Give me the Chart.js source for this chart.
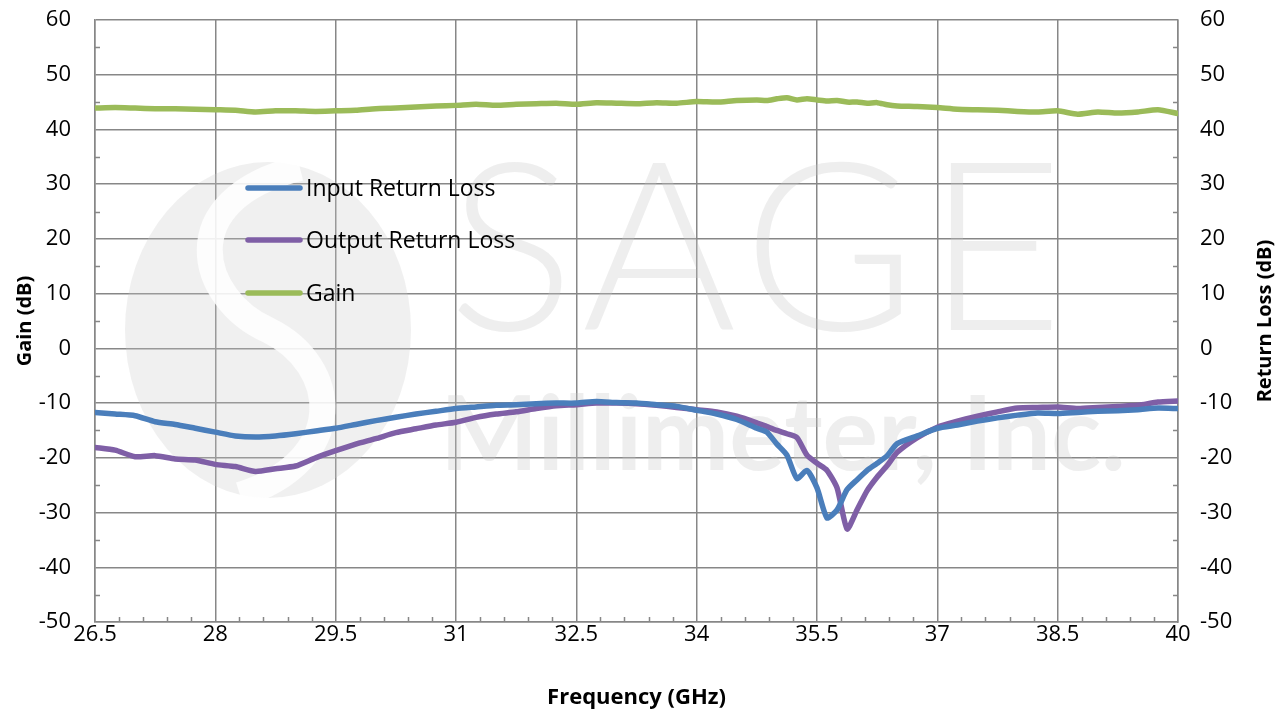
<!DOCTYPE html>
<html>
<head>
<meta charset="utf-8">
<script src="https://cdn.jsdelivr.net/npm/chart.js@4.4.1/dist/chart.umd.min.js"></script>
<style>
  html, body { margin: 0; padding: 0; background: #fff; }
  #chart { display: block; }
</style>
</head>
<body>
<canvas id="chart" width="1286" height="711"></canvas>
<script>
const freq = [26.5, 26.75, 27, 27.25, 27.5, 27.75, 28, 28.25, 28.5, 28.75,
  29, 29.25, 29.5, 29.75, 30, 30.25, 30.5, 30.75, 31, 31.25,
  31.5, 31.75, 32, 32.25, 32.5, 32.75, 33, 33.25, 33.5, 33.75,
  34, 34.25, 34.5, 34.75, 34.875, 35, 35.125, 35.25, 35.375, 35.5,
  35.625, 35.75, 35.875, 36, 36.125, 36.25, 36.375, 36.5, 36.75, 37,
  37.25, 37.5, 37.75, 38, 38.25, 38.5, 38.75, 39, 39.25, 39.5,
  39.75, 40];

const inputRL = [-11.7, -12.0, -12.3, -13.4, -13.9, -14.6, -15.3, -16.0, -16.2, -16.0,
  -15.6, -15.1, -14.6, -13.9, -13.2, -12.6, -12.0, -11.5, -11.0, -10.7,
  -10.4, -10.3, -10.1, -10.0, -10.0, -9.7, -9.9, -10.0, -10.3, -10.6,
  -11.3, -12.0, -13.0, -14.6, -15.3, -17.5, -19.5, -23.8, -22.3, -25.5,
  -31.0, -29.5, -25.8, -24.0, -22.3, -21.0, -19.6, -17.4, -16.0, -14.6,
  -14.0, -13.3, -12.7, -12.2, -11.8, -11.9, -11.7, -11.5, -11.4, -11.2,
  -10.9, -11.0];

const outputRL = [-18.1, -18.6, -19.8, -19.6, -20.2, -20.4, -21.2, -21.6, -22.5, -22.0,
  -21.5, -20.0, -18.7, -17.5, -16.5, -15.4, -14.7, -14.0, -13.5, -12.6,
  -12.0, -11.6, -11.0, -10.5, -10.3, -10.0, -10.0, -10.1, -10.4, -10.8,
  -11.2, -11.6, -12.4, -13.6, -14.3, -15.0, -15.6, -16.3, -19.5, -21.0,
  -22.3, -25.5, -33.0, -29.5, -26.0, -23.5, -21.4, -19.0, -16.3, -14.4,
  -13.3, -12.4, -11.6, -10.9, -10.8, -10.7, -11.0, -10.8, -10.6, -10.4,
  -9.8, -9.6];

const gain = [43.9, 44.0, 43.9, 43.8, 43.8, 43.7, 43.6, 43.5, 43.2, 43.4,
  43.4, 43.3, 43.4, 43.5, 43.8, 43.9, 44.1, 44.3, 44.4, 44.6,
  44.4, 44.6, 44.7, 44.8, 44.6, 44.9, 44.8, 44.7, 44.9, 44.8,
  45.1, 45.0, 45.3, 45.4, 45.3, 45.6, 45.8, 45.4, 45.6, 45.4,
  45.2, 45.3, 45.0, 45.0, 44.8, 44.9, 44.5, 44.3, 44.2, 44.0,
  43.7, 43.6, 43.5, 43.3, 43.2, 43.4, 42.8, 43.2, 43.0, 43.2,
  43.6, 42.9];

const seriesNames = ['Input Return Loss', 'Output Return Loss', 'Gain'];
const seriesColors = ['#4a7ebb', '#7f5fa6', '#9bbb59'];

const FONT = '"Open Sans", "Noto Sans", sans-serif';
const GRID = '#878787';

function pts(vals) {
  return vals.map((v, i) => ({ x: freq[i], y: v }));
}

function noPad(s) {
  s.paddingTop = 0;
  s.paddingBottom = 0;
}

// faint company watermark behind the plot
const watermark = {
  id: 'watermark',
  beforeDatasetsDraw(chart) {
    const ctx = chart.ctx;
    ctx.save();
    ctx.fillStyle = 'rgba(200,200,200,0.28)';
    ctx.beginPath();
    ctx.ellipse(268, 330, 143, 168, 0, 0, Math.PI * 2);
    ctx.fill();
    ctx.strokeStyle = 'rgba(255,255,255,0.85)';
    ctx.lineWidth = 26;
    ctx.beginPath();
    ctx.moveTo(300, 168);
    ctx.bezierCurveTo(170, 200, 200, 300, 268, 330);
    ctx.bezierCurveTo(340, 365, 350, 460, 240, 495);
    ctx.stroke();
    ctx.fillStyle = 'rgba(200,200,200,0.3)';
    ctx.textBaseline = 'alphabetic';
    ctx.font = '300 236px Lato, ' + FONT;
    ctx.letterSpacing = '10px';
    ctx.fillText('SAGE', 448, 330);
    ctx.letterSpacing = '0px';
    ctx.font = '700 104px Lato, ' + FONT;
    ctx.fillText('Millimeter, Inc.', 440, 470);
    ctx.restore();
  }
};

// small inward minor ticks like the spreadsheet axes, plus right axis title
const minorTicks = {
  id: 'minorTicks',
  afterDatasetsDraw(chart) {
    const ctx = chart.ctx;
    const a = chart.chartArea;
    const x = chart.scales.x, y = chart.scales.y;
    ctx.save();
    ctx.strokeStyle = GRID;
    ctx.lineWidth = 1.5;
    ctx.beginPath();
    for (let v = -45; v < 60; v += 10) {
      const py = Math.round(y.getPixelForValue(v)) + 0.5;
      ctx.moveTo(a.left, py); ctx.lineTo(a.left + 5, py);
      ctx.moveTo(a.right, py); ctx.lineTo(a.right - 5, py);
    }
    for (let k = 0; k < 45; k++) {
      if (k % 5 === 0) continue;
      const px = Math.round(x.getPixelForValue(26.5 + k * 0.3)) + 0.5;
      ctx.moveTo(px, a.bottom); ctx.lineTo(px, a.bottom - 5);
    }
    ctx.stroke();

    ctx.translate(1265, (a.top + a.bottom) / 2);
    ctx.rotate(-Math.PI / 2);
    ctx.fillStyle = '#000';
    ctx.font = 'bold 20px ' + FONT;
    ctx.textAlign = 'center';
    ctx.textBaseline = 'middle';
    ctx.fillText('Return Loss (dB)', 0, 0);
    ctx.restore();
  }
};

// legend drawn inside the plot area
const innerLegend = {
  id: 'innerLegend',
  afterDatasetsDraw(chart) {
    const ctx = chart.ctx;
    ctx.save();
    ctx.font = '23px ' + FONT;
    ctx.textBaseline = 'middle';
    ctx.lineCap = 'round';
    const rows = [188, 240, 293];
    chart.data.datasets.forEach((ds, i) => {
      ctx.strokeStyle = ds.borderColor;
      ctx.lineWidth = 5.5;
      ctx.beginPath();
      ctx.moveTo(248, rows[i]);
      ctx.lineTo(300, rows[i]);
      ctx.stroke();
      ctx.fillStyle = '#000';
      ctx.fillText(ds.label, 306, rows[i] + 1);
    });
    ctx.restore();
  }
};

const datasets = [inputRL, outputRL, gain].map((vals, i) => ({
  label: seriesNames[i],
  data: pts(vals),
  borderColor: seriesColors[i],
  backgroundColor: seriesColors[i],
  borderWidth: 5.5,
  borderJoinStyle: 'round',
  borderCapStyle: 'round',
  pointRadius: 0,
  tension: 0.2,
  fill: false,
  yAxisID: i === 2 ? 'y' : 'y2'
}));

new Chart(document.getElementById('chart').getContext('2d'), {
  type: 'line',
  data: { datasets: datasets },
  plugins: [watermark, minorTicks, innerLegend],
  options: {
    responsive: false,
    animation: false,
    layout: { padding: { top: 20, left: 0, right: 0, bottom: 0 } },
    plugins: { legend: { display: false }, tooltip: { enabled: false } },
    scales: {
      x: {
        type: 'linear',
        min: 26.5, max: 40,
        afterBuildTicks(s) {
          s.ticks = [];
          for (let k = 0; k <= 9; k++) s.ticks.push({ value: 26.5 + k * 1.5 });
        },
        afterFit(s) { s.height = 89; s.paddingLeft = 0; s.paddingRight = 0; },
        grid: { color: GRID, lineWidth: 1.5, drawTicks: false },
        border: { color: GRID, width: 1.5 },
        ticks: {
          color: '#000', padding: 0,
          font: { family: FONT, size: 22 },
          maxRotation: 0,
          callback: v => String(+v.toFixed(1))
        },
        title: {
          display: true, text: 'Frequency (GHz)', color: '#000',
          font: { family: FONT, size: 22, weight: 'bold' },
          padding: { top: 4, bottom: 0 }
        }
      },
      y: {
        position: 'left',
        min: -50, max: 60,
        afterFit(s) { s.width = 95; noPad(s); },
        grid: { color: GRID, lineWidth: 1.5, drawTicks: false },
        border: { color: GRID, width: 1.5 },
        ticks: {
          stepSize: 10, color: '#000', padding: 24,
          font: { family: FONT, size: 22 }
        },
        title: {
          display: true, text: 'Gain (dB)', color: '#000',
          font: { family: FONT, size: 20, weight: 'bold' },
          padding: { top: 13, bottom: 0 }
        }
      },
      y2: {
        position: 'right',
        min: -50, max: 60,
        afterFit(s) { s.width = 108; noPad(s); },
        grid: { display: false, drawTicks: false },
        border: { color: GRID, width: 1.5 },
        ticks: {
          stepSize: 10, color: '#000', padding: 22,
          font: { family: FONT, size: 22 }
        }
      }
    }
  }
});
</script>
</body>
</html>
